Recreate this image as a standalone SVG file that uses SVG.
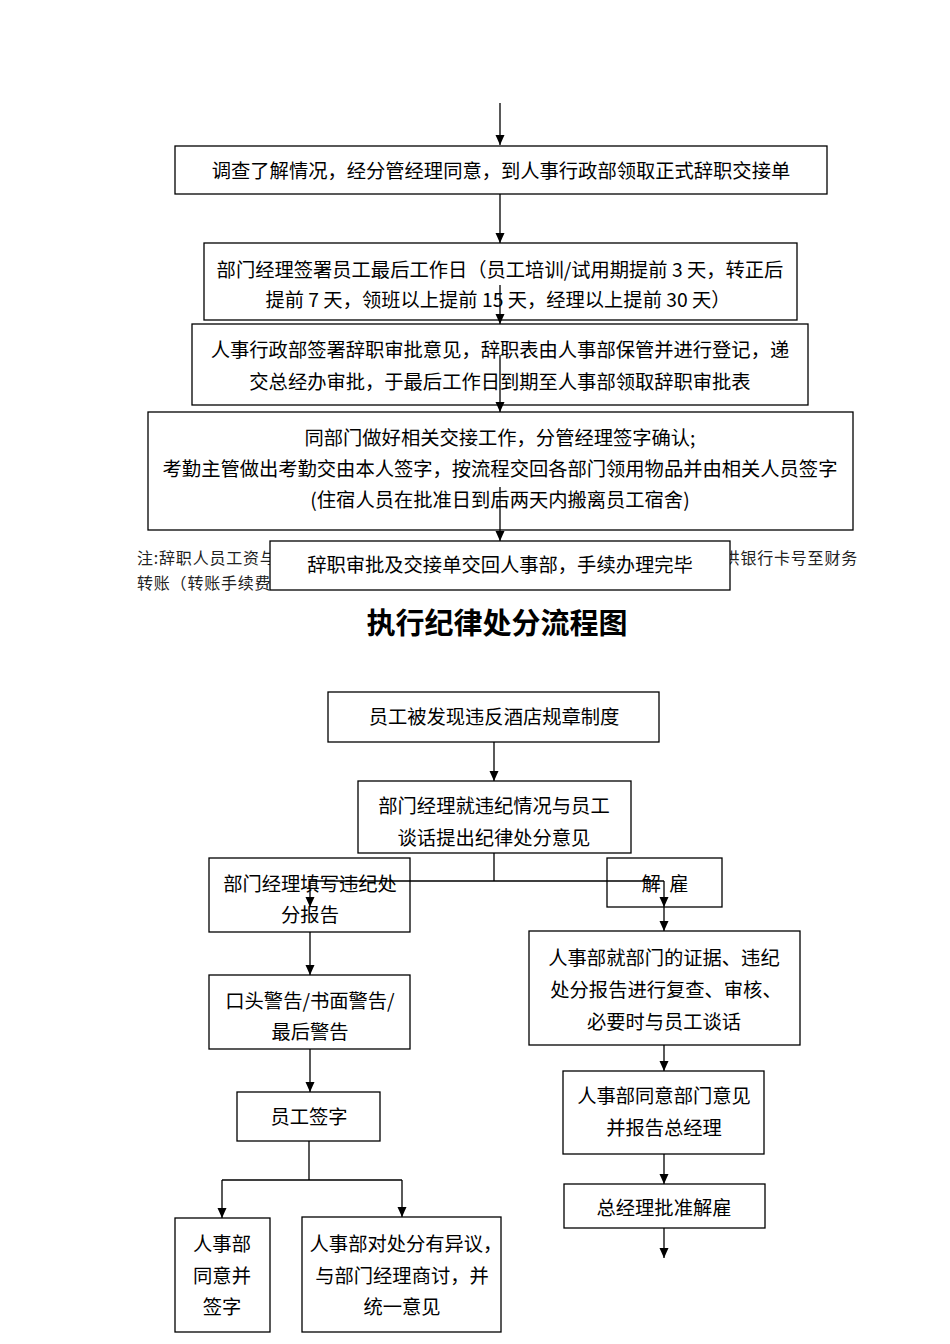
<svg xmlns="http://www.w3.org/2000/svg" width="950" height="1344" viewBox="0 0 950 1344">
<style>
.box{fill:#fff;stroke:#000;stroke-width:1.3}
.t{font-family:"Noto Sans CJK SC","Noto Sans",sans-serif;font-size:19.3px;fill:#000;text-anchor:middle}
.note{font-family:"Noto Sans CJK SC",sans-serif;font-size:16px;fill:#222;letter-spacing:0.8px}
.title{font-family:"Noto Sans CJK SC",sans-serif;font-size:29px;font-weight:bold;fill:#000;text-anchor:middle}
.c{fill:none;stroke:#000;stroke-width:1.3}
.a{marker-end:url(#arr)}
</style>
<defs>
<marker id="arr" markerUnits="userSpaceOnUse" markerWidth="10" markerHeight="10" refX="10" refY="5" orient="auto">
<path d="M0,0.5 L10,5 L0,9.5 z" fill="#000"/>
</marker>
</defs>
<rect width="950" height="1344" fill="#fff"/>

<!-- note text (partly hidden behind box5) -->
<g id="note">
<text class="note" x="137" y="564">注:辞职人员工资与</text>
<text class="note" x="858" y="564" text-anchor="end">供银行卡号至财务</text>
<text class="note" x="137" y="589">转账（转账手续费</text>
</g>

<g id="n1"><rect class="box" x="175" y="146" width="652" height="48"/>
<text class="t" x="501" y="178">调查了解情况，经分管经理同意，到人事行政部领取正式辞职交接单</text></g>

<g id="n2"><rect class="box" x="204" y="243" width="593" height="77"/>
<text class="t" x="500" y="277">部门经理签署员工最后工作日（员工培训/试用期提前 3 天，转正后</text>
<text class="t" x="498" y="307">提前 7 天，领班以上提前 15 天，经理以上提前 30 天）</text></g>

<g id="n3"><rect class="box" x="192" y="324" width="616" height="81"/>
<text class="t" x="500" y="357">人事行政部签署辞职审批意见，辞职表由人事部保管并进行登记，递</text>
<text class="t" x="500" y="389">交总经办审批，于最后工作日到期至人事部领取辞职审批表</text></g>

<g id="n4"><rect class="box" x="148" y="412" width="705" height="118"/>
<text class="t" x="500" y="445">同部门做好相关交接工作，分管经理签字确认;</text>
<text class="t" x="500" y="476">考勤主管做出考勤交由本人签字，按流程交回各部门领用物品并由相关人员签字</text>
<text class="t" x="500" y="507">(住宿人员在批准日到后两天内搬离员工宿舍)</text></g>

<g id="n5"><rect class="box" x="270" y="541" width="460" height="49"/>
<text class="t" x="500" y="572">辞职审批及交接单交回人事部，手续办理完毕</text></g>

<g id="title"><text class="title" x="497" y="634">执行纪律处分流程图</text></g>

<g id="d1"><rect class="box" x="328" y="692" width="331" height="50"/>
<text class="t" x="494" y="724">员工被发现违反酒店规章制度</text></g>

<g id="d2"><rect class="box" x="358" y="781" width="273" height="72"/>
<text class="t" x="494" y="813">部门经理就违纪情况与员工</text>
<text class="t" x="494" y="845">谈话提出纪律处分意见</text></g>

<g id="d3"><rect class="box" x="209" y="858" width="201" height="74"/>
<text class="t" x="310" y="891">部门经理填写违纪处</text>
<text class="t" x="310" y="922">分报告</text></g>

<g id="d4"><rect class="box" x="607" y="858" width="115" height="49"/>
<text class="t" x="665" y="891" xml:space="preserve">解  雇</text></g>

<g id="d5"><rect class="box" x="209" y="975" width="201" height="74"/>
<text class="t" x="310" y="1008">口头警告/书面警告/</text>
<text class="t" x="310" y="1039">最后警告</text></g>

<g id="d6"><rect class="box" x="237" y="1092" width="143" height="49"/>
<text class="t" x="309" y="1124">员工签字</text></g>

<g id="d7"><rect class="box" x="175" y="1218" width="95" height="114"/>
<text class="t" x="222" y="1251">人事部</text>
<text class="t" x="222" y="1283">同意并</text>
<text class="t" x="222" y="1314">签字</text></g>

<g id="d8"><rect class="box" x="302" y="1217" width="199" height="115"/>
<text class="t" x="406" y="1251">人事部对处分有异议，</text>
<text class="t" x="402" y="1283">与部门经理商讨，并</text>
<text class="t" x="402" y="1314">统一意见</text></g>

<g id="d9"><rect class="box" x="529" y="931" width="271" height="114"/>
<text class="t" x="664" y="965">人事部就部门的证据、违纪</text>
<text class="t" x="666" y="997">处分报告进行复查、审核、</text>
<text class="t" x="664" y="1029">必要时与员工谈话</text></g>

<g id="d10"><rect class="box" x="563" y="1071" width="201" height="83"/>
<text class="t" x="664" y="1103">人事部同意部门意见</text>
<text class="t" x="664" y="1135">并报告总经理</text></g>

<g id="d11"><rect class="box" x="564" y="1184" width="201" height="44"/>
<text class="t" x="664" y="1215">总经理批准解雇</text></g>

<g id="connectors">
<path class="c a" d="M500,103 V145"/>
<path class="c a" d="M500,194 V243"/>
<path class="c a" d="M500,285 V324"/>
<path class="c a" d="M500,355 V412"/>
<path class="c a" d="M500,487 V541"/>
<path class="c a" d="M494,742 V781"/>
<path class="c" d="M494,853 V881 M310,881 H664"/>
<path class="c a" d="M310,881 V907"/>
<path class="c a" d="M664,881 V907"/>
<path class="c a" d="M664,907 V931"/>
<path class="c a" d="M310,932 V975"/>
<path class="c a" d="M310,1049 V1092"/>
<path class="c" d="M309,1141 V1180 M222,1180 H402"/>
<path class="c a" d="M222,1180 V1218"/>
<path class="c a" d="M402,1180 V1217"/>
<path class="c a" d="M664,1045 V1071"/>
<path class="c a" d="M664,1154 V1184"/>
<path class="c a" d="M664,1228 V1258"/>
</g>
</svg>
